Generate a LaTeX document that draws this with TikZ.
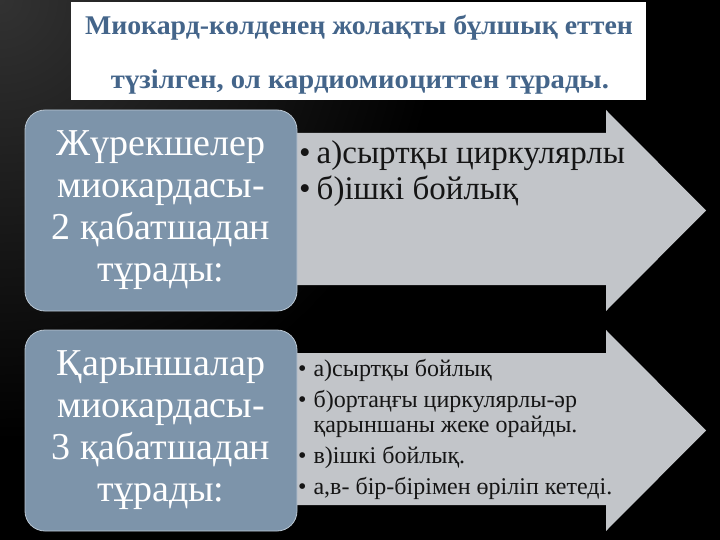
\documentclass[tikz,border=0pt]{standalone}
\usepackage{fontspec}
\setmainfont{Liberation Serif}
\definecolor{boxblue}{HTML}{7D94AA}
\definecolor{boxedge}{HTML}{B9C6D2}
\definecolor{arrowgray}{HTML}{C2C5C9}
\definecolor{titleblue}{HTML}{44658A}
\definecolor{txtdark}{HTML}{151515}
\definecolor{bgtop}{HTML}{323232}
\tikzset{
  bluebox/.style={fill=boxblue, draw=boxedge, line width=0.8pt, rounded corners=20pt,
    minimum width=272pt, minimum height=201pt, inner sep=0pt, text=white, align=center,
    font=\fontsize{38}{42}\selectfont},
  arrowshape/.style={fill=arrowgray},
  titletext/.style={text=titleblue, font=\fontsize{27}{30}\selectfont\bfseries, inner sep=0pt, anchor=base},
  listtext/.style={text=txtdark, inner sep=0pt, anchor=base west}
}
\begin{document}
\begin{tikzpicture}[x=1pt,y=-1pt]
\useasboundingbox (0,0) rectangle (720,540);
\fill[black] (0,0) rectangle (720,540);
\begin{scope}
  \clip (0,0) rectangle (720,540);
  \shade[inner color=bgtop, outer color=black] (0,0) circle (440pt);
\end{scope}
% title box
\node (titlebox) [fill=white, inner sep=0pt, minimum width=575pt, minimum height=98pt] at (358.5,51) {};
\node (t1) [titletext] at (359,35) {\scalebox{1.03}[1]{Миокард-көлденең жолақты бұлшық еттен}};
\node (t2) [titletext] at (360,89) {\scalebox{1.06}[1]{түзілген, ол кардиомиоциттен тұрады.}};
% row 1
\fill[arrowshape] (280,133) -- (606,133) -- (606,110) -- (706,210.5) -- (606,311) -- (606,285) -- (280,285) -- cycle;
\node (b1) [bluebox] at (161,210.5) {Жүрекшелер\\миокардасы-\\2 қабатшадан\\тұрады:};
\node (l1) [listtext, font=\fontsize{33}{36}\selectfont] at (299,164)
  {\begin{tabular}[t]{@{}l@{\hspace{6pt}}l@{}}•&а)сыртқы циркулярлы\\•&б)ішкі бойлық\end{tabular}};
% row 2
\fill[arrowshape] (280,353) -- (606,353) -- (606,330) -- (706,430.5) -- (606,531) -- (606,505) -- (280,505) -- cycle;
\node (b2) [bluebox] at (161,430.5) {Қарыншалар\\миокардасы-\\3 қабатшадан\\тұрады:};
\node (l2) [listtext, font=\fontsize{24}{25}\selectfont] at (298,376)
  {\begin{tabular}[t]{@{}l@{\hspace{7pt}}l@{}}•&а)сыртқы бойлық\\[6pt]•&б)ортаңғы циркулярлы-әр\\&қарыншаны жеке орайды.\\[6pt]•&в)ішкі бойлық.\\[6pt]•&а,в- бір-бірімен өріліп кетеді.\end{tabular}};
\end{tikzpicture}
\end{document}
